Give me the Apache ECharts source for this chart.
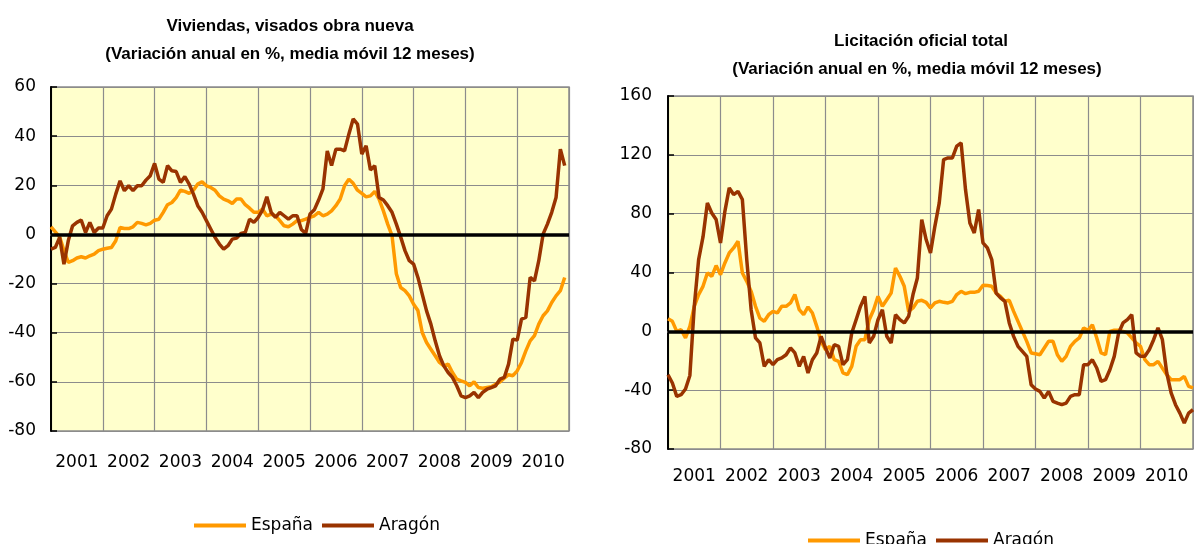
<!DOCTYPE html>
<html>
<head>
<meta charset="utf-8">
<script src="https://cdn.jsdelivr.net/npm/echarts@6/dist/echarts.min.js"></script>
<style>
html,body{margin:0;padding:0;background:#fff;}
#chart{width:1194px;height:544px;}
</style>
</head>
<body>
<div id="chart"></div>
<script>
// Year labels (category axis)
const years = ['2001','2002','2003','2004','2005','2006','2007','2008','2009','2010'];
const yTicksLeft = [-80, 60, 20];   // min, max, interval
const yTicksRight = [-80, 160, 40];

// Viviendas, visados obra nueva (monthly, Jan 2001 - Dec 2010)
const viviendasEspana = [3.1,1,-1,-6.6,-11.4,-10.7,-9.6,-9.1,-9.6,-8.7,-8,-6.6,
  -6,-5.6,-5.3,-2.6,2.8,2.4,2.4,3.1,4.9,4.5,3.9,4.5,
  5.8,6.2,9,12.1,13,15,18,17.5,16.7,18,20.5,21.4,
  19.8,19.1,18,15.7,14.4,13.7,12.6,14.4,14.4,12.1,10.7,9,
  9,10.3,7.6,8.3,7.6,5.6,3.5,3.1,4.2,5.6,5.6,6.2,
  6.9,7.6,9,7.6,8.3,9.6,11.7,14.4,19.8,22.5,20.8,18,
  16.7,15.3,15.7,17.5,14.4,9.6,4.2,-0.5,-16,-21.6,-22.9,-25,
  -28.4,-31,-39.9,-44,-46.7,-49.4,-52.1,-53.5,-52.8,-56.2,-58.9,-59.6,
  -60.2,-61.6,-60,-62.3,-62.6,-62.3,-62,-61,-60,-58.5,-57.1,-57.5,
  -55.5,-52.1,-47.4,-43.3,-41.2,-36.5,-33.1,-31.1,-27.7,-25,-22.9,-17.5];
const viviendasAragon = [-6,-5.3,-1.2,-12.1,-2.6,3.5,4.9,5.8,0.8,4.9,0.8,2.6,
  2.6,7.6,10.3,16.4,21.8,17.8,19.8,17.8,19.8,19.8,22.1,23.9,
  28.9,22.5,21.2,28,25.9,25.6,21.2,23.5,20.5,16.4,11.7,9,
  5.6,2.2,-1.2,-3.9,-6,-4.6,-1.9,-1.5,0.4,0.8,6.2,4.9,
  6.9,9.9,15.3,9,6.9,9,7.6,6.2,7.6,7.6,2,0.4,
  8.3,10,14,18.5,34,28,34.7,34.7,34,40.8,47,44.9,
  32.7,36.1,26.2,28,15,14,11.7,9,4.2,-1,-6.6,-10.7,
  -12.1,-17.5,-24.3,-31.1,-36.5,-43.3,-49.4,-53.5,-56.2,-58.2,-61.6,-65.7,
  -66.4,-65.7,-64.3,-66.4,-64.3,-63,-62.3,-61.6,-58.9,-58.2,-52.8,-42.6,
  -43,-34.5,-33.8,-17.5,-18.9,-10.7,0.1,4.2,9,15,34.7,28];

// Licitación oficial total (monthly, Jan 2001 - Jan 2011)
const licitacionEspana = [8.6,6.8,0,1.1,-4.5,3.4,17,25,30.6,39.7,37.4,44.7,
  38.5,46.5,53.3,56.7,61.2,39.7,34,27.2,17,9,6.8,11.3,
  13.6,12.5,17,17,19.3,25,14.7,11.3,16.6,12.5,3.4,-6.8,
  -12.5,-10.2,-19.3,-20.4,-28.3,-29.5,-23.8,-10.2,-5.7,-5.7,7.9,14.7,
  23.8,17,21.5,26,43.1,37.4,30.6,13.6,15.9,20.4,21.1,19.7,
  15.9,19.3,20.4,19.7,19.3,20.4,25,27.2,25.6,26.5,26.5,27.2,
  31.3,31.1,30.6,26,23.8,20.4,21.1,13.6,6.8,0,-6.8,-14.7,
  -15.2,-15.9,-11.3,-6.8,-6.8,-15.9,-20.4,-17,-10.2,-6.8,-4.5,2.3,
  0.7,4.5,-4.5,-14.7,-15.9,0,0.7,0.7,0,-1.1,-4.5,-7.9,
  -10.2,-19.3,-22.7,-22.7,-20.4,-25,-29.5,-32.9,-32.9,-32.9,-30.6,-37.4,-38.5];
const licitacionAragon = [-29.5,-35.1,-44.2,-43.1,-39.2,-30,17,48.8,64.2,87.3,80.5,76,
  60.1,81.6,97.5,93,95.2,89.6,48.8,14.7,-4.5,-7.9,-23.8,-19.3,
  -22.7,-19.3,-18.1,-15.9,-11.3,-14.7,-23.8,-17,-28.3,-19.3,-14.7,-3.4,
  -11.3,-18.1,-9.1,-10.2,-22.7,-19.3,-1.1,7.9,17,23.8,-7.9,-3.4,
  7.9,14.7,-3.4,-7.9,11.3,7.9,5.7,10.2,25,36.3,76,62.4,
  53.3,71.4,87.3,116.8,117.9,117.9,125.9,128.1,96.4,73.7,66.9,82.8,
  60.1,56.7,48.8,26,22.7,20.4,5.7,-3.4,-10.2,-13.6,-17,-36.3,
  -39.2,-40.8,-45.4,-40.8,-47.6,-48.8,-49.9,-48.8,-44.2,-43.1,-43.1,-22.7,
  -22.7,-19.3,-24.9,-34,-32.9,-26.1,-17,-1.1,5.7,7.9,11.3,-14.7,
  -17,-17,-12.5,-5.7,2.3,-5.7,-28.3,-41.9,-49.9,-55.6,-62.4,-55.6,-53.3];

// Month categories (Jan 2001 .. Jan 2011)
const months = [];
years.concat(['2011']).forEach(function (y) {
  for (let m = 1; m <= 12; m++) {
    if (y === '2011' && m > 1) break;
    months.push(y + '-' + (m < 10 ? '0' + m : m));
  }
});

const AXFONT = '"DejaVu Sans", "Liberation Sans", Arial, sans-serif';
const TFONT = '"Liberation Sans", Arial, sans-serif';
const ORANGE = '#FF9900';
const BROWN = '#993300';
const GRID = '#8C8C8C';

function gridBox(left, top, width, height) {
  return { left: left, top: top, width: width, height: height,
    show: true, backgroundColor: '#FFFFCC', borderColor: GRID, borderWidth: 1.5, containLabel: false };
}
function yearAxis(gi, margin) {
  return { type: 'category', gridIndex: gi, data: years, boundaryGap: true, position: 'bottom',
    axisLine: { show: true, lineStyle: { color: GRID, width: 1.5 } },
    axisTick: { show: false },
    axisLabel: { color: '#000', fontSize: 17, fontFamily: AXFONT, margin: margin, interval: 0 },
    splitLine: { show: true, interval: 0, lineStyle: { color: GRID, width: 1.2 } } };
}
function monthAxis(gi) {
  return { type: 'category', gridIndex: gi, data: months, boundaryGap: false, show: false };
}
function valueAxis(gi, t, margin) {
  return { type: 'value', gridIndex: gi, min: t[0], max: t[1], interval: t[2],
    axisLine: { show: true, lineStyle: { color: '#000', width: 2 } },
    axisTick: { show: true, inside: true, length: 6, lineStyle: { color: '#000', width: 1.5 } },
    axisLabel: { color: '#000', fontSize: 17, fontFamily: AXFONT, margin: margin },
    splitLine: { show: true, lineStyle: { color: GRID, width: 1.2 } } };
}
function lineSeries(name, data, color, xi, yi, zero) {
  const s = { name: name, type: 'line', data: data, xAxisIndex: xi, yAxisIndex: yi,
    symbol: 'none', smooth: false, color: color,
    lineStyle: { color: color, width: 3.5 }, z: 3 };
  if (zero) {
    s.markLine = { silent: true, symbol: 'none', label: { show: false },
      lineStyle: { color: '#000', width: 3.5, type: 'solid' }, data: [{ yAxis: 0 }] };
  }
  return s;
}
function titleStyle() {
  return { color: '#000', fontSize: 17, fontWeight: 'bold', fontFamily: TFONT };
}

const chart = echarts.init(document.getElementById('chart'), null, { renderer: 'canvas' });
chart.setOption({
  animation: false,
  backgroundColor: '#fff',
  title: [
    { text: 'Viviendas, visados obra nueva', left: 285, top: 13, textAlign: 'center', textStyle: titleStyle() },
    { text: '(Variación anual en %, media móvil 12 meses)', left: 285, top: 41, textAlign: 'center', textStyle: titleStyle() },
    { text: 'Licitación oficial total', left: 916, top: 28, textAlign: 'center', textStyle: titleStyle() },
    { text: '(Variación anual en %, media móvil 12 meses)', left: 912, top: 56, textAlign: 'center', textStyle: titleStyle() }
  ],
  legend: [
    { data: ['España', 'Aragón'], left: 189, top: 512, itemWidth: 52, itemHeight: 4, itemGap: 9,
      textStyle: { color: '#000', fontSize: 17, fontFamily: AXFONT }, icon: 'rect' },
    { data: ['España', 'Aragón'], left: 803, top: 527, itemWidth: 52, itemHeight: 4, itemGap: 9,
      textStyle: { color: '#000', fontSize: 17, fontFamily: AXFONT }, icon: 'rect' }
  ],
  grid: [gridBox(51, 87, 518, 344), gridBox(668, 96, 525, 353)],
  xAxis: [yearAxis(0, 23), monthAxis(0), yearAxis(1, 19), monthAxis(1)],
  yAxis: [valueAxis(0, yTicksLeft, 15), valueAxis(1, yTicksRight, 16)],
  series: [
    lineSeries('España', viviendasEspana, ORANGE, 1, 0, true),
    lineSeries('Aragón', viviendasAragon, BROWN, 1, 0, false),
    lineSeries('España', licitacionEspana, ORANGE, 3, 1, true),
    lineSeries('Aragón', licitacionAragon, BROWN, 3, 1, false)
  ]
});
</script>
</body>
</html>
